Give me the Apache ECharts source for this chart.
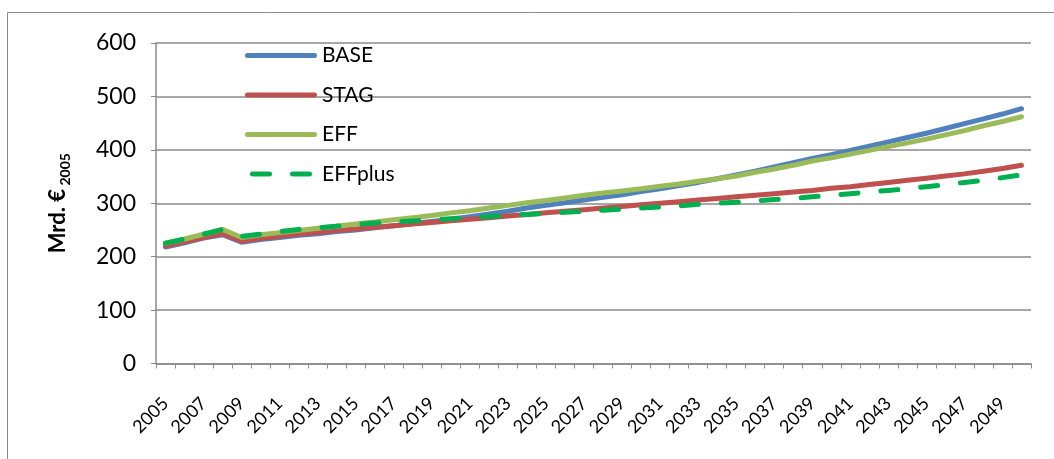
<!DOCTYPE html>
<html>
<head>
<meta charset="utf-8">
<script src="https://cdn.jsdelivr.net/npm/echarts@6/dist/echarts.min.js"></script>
<style>
html,body{margin:0;padding:0;background:#fff;}
#c{width:1054px;height:459px;}
</style>
</head>
<body>
<div id="c"></div>
<script>
const years = [];
for (let y = 2005; y <= 2050; y++) years.push(String(y));

const seriesNames = ['BASE', 'STAG', 'EFF', 'EFFplus'];

const BASE = [218,226,235,241,227,232,236,240,243,247,250,254,258,262,266,270,275,280,285,291,296,301,306,311,316,322,327,333,339,346,353,360,368,376,384,391,399,407,415,423,431,440,449,458,467,477];
const STAG = [220,228,236,243,229,234,238,242,245,249,252,255,258,261,264,267,270,273,276,279,282,285,288,291,294,297,300,303,306,309,312,315,318,321,324,328,331,335,339,343,347,351,355,360,365,371];
const EFF = [225,233,242,251,236,241,245,249,253,257,261,265,269,273,277,282,286,291,296,301,305,310,315,319,323,327,332,336,341,346,351,358,364,371,379,385,392,399,406,413,420,428,436,445,453,462];
const EFFplus = [225,233,242,251,238,242,247,251,254,257,260,263,265,267,269,271,273,275,277,279,281,283,285,287,289,291,293,295,298,300,302,304,307,309,312,315,318,321,324,327,331,335,339,343,348,353];

const yTicks = [0, 100, 200, 300, 400, 500, 600];

const colors = ['#4F81BD', '#C0504D', '#9BBB59', '#00B050'];
const FONT = 'Lato';

const chart = echarts.init(document.getElementById('c'), null, {renderer: 'canvas'});

const dataSets = [BASE, STAG, EFF, EFFplus];
const series = seriesNames.map((n, i) => ({
  name: n,
  type: 'line',
  data: dataSets[i],
  symbol: 'none',
  smooth: false,
  z: 2 + i,
  lineStyle: i === 3
    ? {color: colors[i], width: 5, type: [17, 23], cap: 'round'}
    : {color: colors[i], width: 5, cap: 'round'},
  itemStyle: {color: colors[i]}
}));

const solidIcon = 'path://M2.5,0h67a2.5,2.5 0 0 1 0,5h-67a2.5,2.5 0 0 1 0,-5z';
const dashIcon = 'path://M2.5,0h17a2.5,2.5 0 0 1 0,5h-17a2.5,2.5 0 0 1 0,-5z M42.5,0h17a2.5,2.5 0 0 1 0,5h-17a2.5,2.5 0 0 1 0,-5z';

chart.setOption({
  animation: false,
  backgroundColor: '#ffffff',
  textStyle: {fontFamily: FONT},
  graphic: [{
    type: 'rect',
    shape: {x: 7.5, y: 12.5, width: 1200, height: 600},
    style: {fill: 'none', stroke: '#8a8a8a', lineWidth: 1},
    silent: true, z: -10
  }],
  legend: {
    orient: 'vertical',
    left: 240,
    top: 40,
    itemWidth: 72,
    itemHeight: 5,
    itemGap: 18.5,
    data: seriesNames.map((n, i) => ({name: n, icon: i === 3 ? dashIcon : solidIcon})),
    textStyle: {fontFamily: FONT, fontSize: 21, color: '#000'}
  },
  grid: {left: 156, right: 23, top: 43, bottom: 95.5, containLabel: false},
  xAxis: {
    type: 'category',
    data: years,
    boundaryGap: true,
    axisLine: {show: true, lineStyle: {color: '#8a8a8a', width: 1.5}},
    axisTick: {show: true, interval: 0, length: 5, alignWithLabel: false, lineStyle: {color: '#8a8a8a'}},
    axisLabel: {interval: 1, rotate: 45, fontFamily: FONT, fontSize: 18, color: '#000', margin: 37, padding: [22, 0, 0, 0]},
    splitLine: {show: false}
  },
  yAxis: {
    type: 'value',
    min: yTicks[0],
    max: yTicks[yTicks.length - 1],
    interval: 100,
    name: '{a|Mrd. €}{b| 2005}',
    nameLocation: 'middle',
    nameGap: 80,
    nameRotate: 90,
    nameTextStyle: {
      rich: {
        a: {fontFamily: FONT, fontSize: 22, fontWeight: 'bold', color: '#000', lineHeight: 36, verticalAlign: 'middle'},
        b: {fontFamily: FONT, fontSize: 14, fontWeight: 'bold', color: '#000', lineHeight: 36, verticalAlign: 'bottom', padding: [0, 0, 4, 0]}
      }
    },
    axisLine: {show: true, lineStyle: {color: '#8a8a8a', width: 1.5}},
    axisTick: {show: true, length: 5, lineStyle: {color: '#8a8a8a'}},
    axisLabel: {fontFamily: FONT, fontSize: 23, color: '#000', margin: 20},
    splitLine: {show: true, lineStyle: {color: '#8a8a8a', width: 1.5}}
  },
  series: series
});
</script>
</body>
</html>
